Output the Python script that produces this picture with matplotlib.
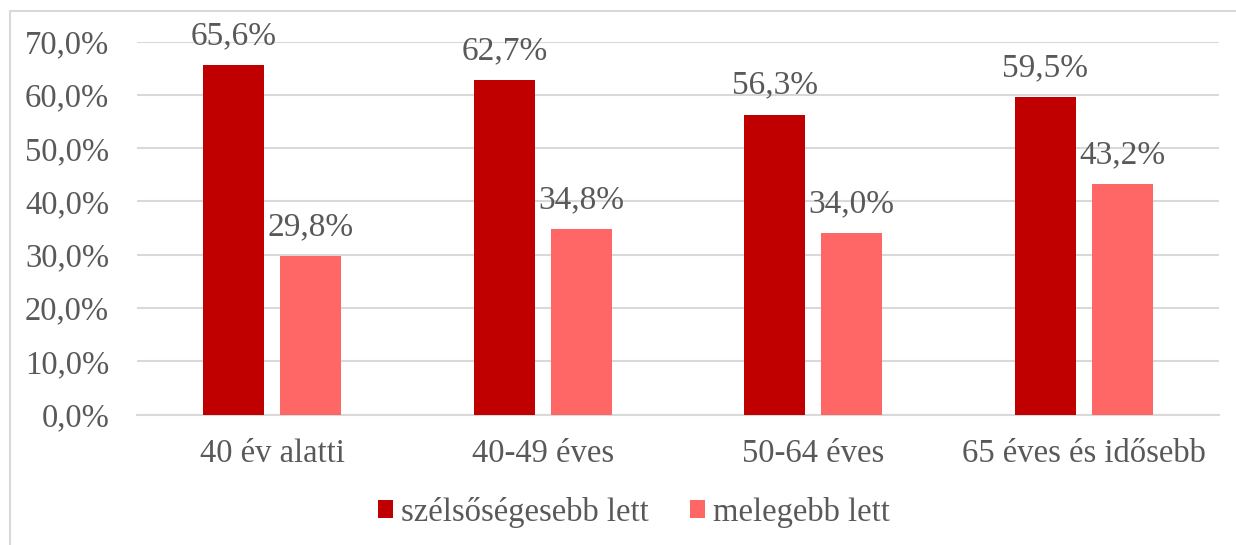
import matplotlib
matplotlib.use("Agg")
import matplotlib.pyplot as plt
import numpy as np
from matplotlib.patches import Rectangle
from matplotlib.ticker import FuncFormatter

categories = ["40 év alatti", "40-49 éves", "50-64 éves", "65 éves és idősebb"]
series_names = ["szélsőségesebb lett", "melegebb lett"]
extreme = [65.6, 62.7, 56.3, 59.5]
warmer = [29.8, 34.8, 34.0, 43.2]

dark = "#C00000"
light = "#FF6666"
txt = "#595959"
grid_c = "#D9D9D9"

plt.rcParams["font.family"] = ["Liberation Serif", "DejaVu Serif"]
fs = 23.5

fig = plt.figure(figsize=(12.36, 5.45), dpi=100)
ax = fig.add_axes([137 / 1236, (545 - 414.5) / 545, (1219 - 137) / 1236, (414.5 - 41.5) / 545])

# frame of the chart area (only top and left edges show in the crop)
fig.patches.append(Rectangle((10 / 1236, -0.1), 1.2, (545 - 10.5) / 545 + 0.1,
                             transform=fig.transFigure, fill=False,
                             edgecolor=grid_c, linewidth=1.5))

x = np.arange(len(categories))
w = 0.225
off = 0.142
b1 = ax.bar(x - off, extreme, w, color=dark, label=series_names[0], zorder=3)
b2 = ax.bar(x + off, warmer, w, color=light, label=series_names[1], zorder=3)

for bars, vals in ((b1, extreme), (b2, warmer)):
    for r, v in zip(bars, vals):
        ax.annotate(("%.1f%%" % v).replace(".", ","),
                    (r.get_x() + r.get_width() / 2, v),
                    xytext=(0, 10), textcoords="offset points",
                    ha="center", va="bottom", fontsize=24, color=txt)

ax.set_xlim(-0.5, len(categories) - 0.5)
ax.set_ylim(0, 70)
ax.set_yticks(np.arange(0, 71, 10))
ax.yaxis.set_major_formatter(FuncFormatter(lambda v, p: ("%.1f%%" % v).replace(".", ",")))
ax.set_xticks(x)
ax.set_xticklabels(categories)
ax.tick_params(axis="both", length=0, labelsize=fs, colors=txt)
ax.tick_params(axis="x", pad=17)
ax.tick_params(axis="y", pad=20)
ax.grid(axis="y", color=grid_c, linewidth=1.5, zorder=0)
for s in ["top", "right", "left"]:
    ax.spines[s].set_visible(False)
ax.spines["bottom"].set_color(grid_c)
ax.spines["bottom"].set_linewidth(1.5)

fig.legend(handles=[b1, b2], labels=series_names, loc="center",
           bbox_to_anchor=(634 / 1236, 1 - 512 / 545), ncol=2, frameon=False,
           fontsize=fs, labelcolor=txt, handlelength=0.45, handleheight=0.45,
           handletextpad=0.25, columnspacing=1.25)

fig.savefig("out.png", dpi=100)
